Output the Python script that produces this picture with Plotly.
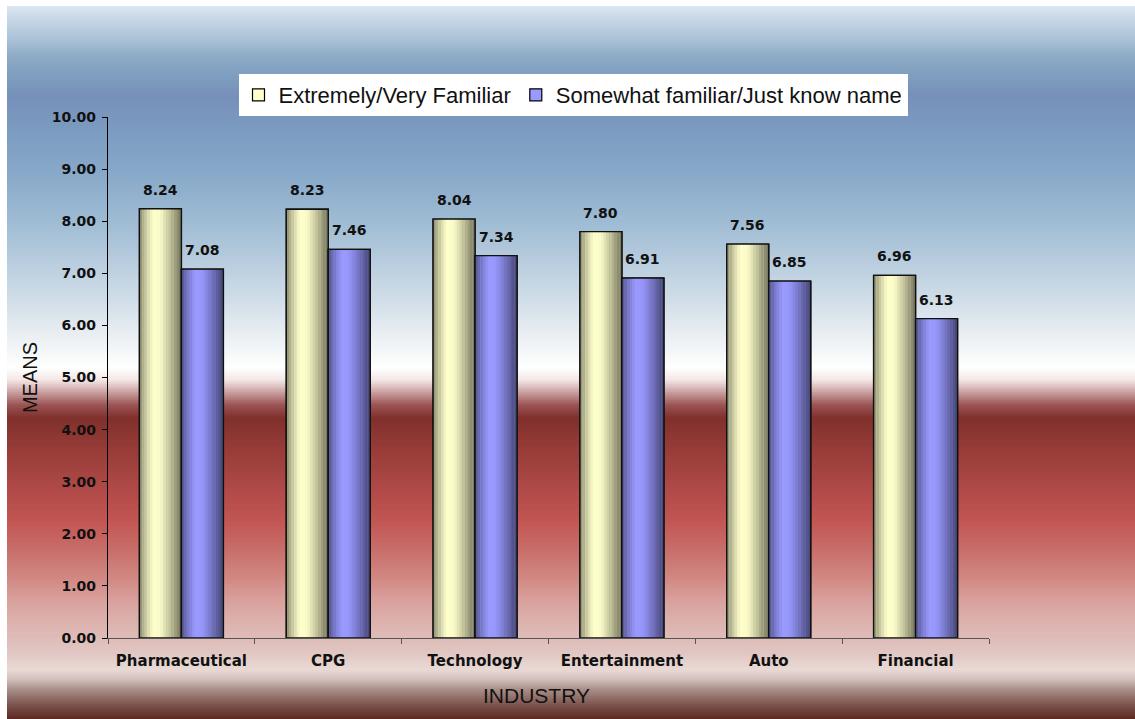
import plotly.graph_objects as go

# ---- data -------------------------------------------------------------
industries = ["Pharmaceutical", "CPG", "Technology", "Entertainment", "Auto", "Financial"]
very_familiar = [8.24, 8.23, 8.04, 7.80, 7.56, 6.96]
somewhat_familiar = [7.08, 7.46, 7.34, 6.91, 6.85, 6.13]
series_names = ["Extremely/Very Familiar", "Somewhat familiar/Just know name"]
y_ticks = [0, 1, 2, 3, 4, 5, 6, 7, 8, 9, 10]

# ---- geometry / style ----------------------------------------------------
W, H = 1135, 719
L, R, T, B = 108, 146, 117, 81
plot_w = W - L - R
plot_h = H - T - B
bar_w = 0.286
BOLD = "DejaVu Sans"
PLAIN = "Liberation Sans, Arial"
series = [
    (series_names[0], very_familiar, (255, 255, 204), -bar_w),
    (series_names[1], somewhat_familiar, (153, 153, 255), 0.0),
]

# background colour stops (pixel row -> rgb)
bg_stops = [
    (6, (219, 230, 241)), (20, (198, 214, 230)), (40, (169, 193, 215)),
    (55, (143, 171, 198)), (75, (127, 159, 192)), (95, (118, 144, 185)),
    (130, (123, 155, 193)), (180, (138, 171, 202)), (230, (164, 191, 214)),
    (300, (208, 221, 232)), (330, (230, 236, 241)), (368, (255, 255, 255)),
    (380, (244, 230, 230)), (395, (192, 144, 144)), (405, (154, 84, 84)),
    (418, (128, 48, 44)), (450, (152, 60, 56)), (490, (176, 74, 72)),
    (520, (194, 85, 82)), (550, (200, 110, 106)), (580, (210, 138, 132)),
    (600, (217, 160, 156)), (620, (220, 176, 172)), (650, (224, 196, 192)),
    (670, (233, 217, 213)), (680, (208, 188, 184)), (690, (168, 140, 134)),
    (705, (124, 84, 78)), (719, (92, 40, 34)),
]


def bg_color(py):
    for (y0, c0), (y1, c1) in zip(bg_stops[:-1], bg_stops[1:]):
        if y0 <= py <= y1:
            t = (py - y0) / (y1 - y0)
            return tuple(round(a + (b - a) * t) for a, b in zip(c0, c1))
    return bg_stops[-1][1]


def px_to_paper_x(px):
    return (px - L) / plot_w


def px_to_paper_y(py):
    return (H - B - py) / plot_h


shapes = []
step = 2
for py in range(6, H, step):
    r, g, b = bg_color(py + step / 2)
    shapes.append(dict(
        type="rect", xref="paper", yref="paper", layer="below",
        x0=px_to_paper_x(7), x1=px_to_paper_x(W + 2),
        y0=px_to_paper_y(py + step + 0.5), y1=px_to_paper_y(py),
        fillcolor=f"rgb({r},{g},{b})", line=dict(width=0),
    ))

# cylinder-style horizontal shading profile across a bar
shade_pts = [(0.0, 0.55), (0.15, 0.78), (0.32, 1.0), (0.5, 0.98), (0.7, 0.78), (0.88, 0.58), (1.0, 0.45)]


def shade(t):
    for (t0, f0), (t1, f1) in zip(shade_pts[:-1], shade_pts[1:]):
        if t0 <= t <= t1:
            return f0 + (f1 - f0) * (t - t0) / (t1 - t0)
    return shade_pts[-1][1]


fig = go.Figure()
n_strips = 16
x_idx = list(range(len(industries)))

for name, vals, base, off in series:
    # legend-carrying base bar
    fig.add_trace(go.Bar(
        x=industries, y=vals, name=name, offset=off, width=bar_w,
        marker=dict(color=f"rgb{base}", line=dict(color="black", width=1.2)),
        hoverinfo="skip",
    ))
    sw = bar_w / n_strips
    for k in range(n_strips):
        f = shade((k + 0.5) / n_strips)
        c = tuple(min(255, round(v * f)) for v in base)
        fig.add_trace(go.Bar(
            x=industries, y=vals, offset=off + k * sw, width=sw * 1.08,
            marker=dict(color=f"rgb{c}", line=dict(width=0)),
            showlegend=False, hoverinfo="skip",
        ))
    # outline on top
    fig.add_trace(go.Bar(
        x=industries, y=vals, offset=off, width=bar_w,
        marker=dict(color="rgba(0,0,0,0)", line=dict(color="#111", width=1.4)),
        showlegend=False, hoverinfo="skip",
    ))

annotations = []
for name, vals, base, off in series:
    for i, v in zip(x_idx, vals):
        annotations.append(dict(
            x=i + off + bar_w / 2, y=v, xref="x", yref="y",
            text=f"{v:.2f}", showarrow=False, yshift=19,
            font=dict(family=BOLD, size=14, color="#111", weight="bold"),
        ))

# x-axis title, placed slightly left of the plot centre
annotations.append(dict(
    text="INDUSTRY", xref="paper", yref="paper",
    x=px_to_paper_x(536), y=px_to_paper_y(695),
    xanchor="center", yanchor="middle", showarrow=False,
    font=dict(family=PLAIN, size=21, color="#111"),
))

fig.update_layout(
    width=W, height=H,
    margin=dict(l=L, r=R, t=T, b=B),
    paper_bgcolor="white",
    plot_bgcolor="rgba(0,0,0,0)",
    barmode="overlay",
    shapes=shapes,
    annotations=annotations,
    font=dict(family=PLAIN, color="#111"),
    legend=dict(
        orientation="h", x=px_to_paper_x(573), y=px_to_paper_y(74),
        xanchor="center", yanchor="top",
        bgcolor="white", borderwidth=0,
        font=dict(family=PLAIN, size=22, color="#111"),
        itemwidth=30, traceorder="normal",
    ),
    xaxis=dict(
        type="category", showgrid=False, showline=True, linecolor="#555", linewidth=1.2,
        ticks="outside", tickson="boundaries", ticklen=5, tickcolor="#555",
        ticklabelstandoff=9,
        tickfont=dict(family=BOLD, size=15, color="#111", weight="bold"),
        range=[-0.5, len(industries) - 0.5],
    ),
    yaxis=dict(
        range=[0, 10], tickvals=y_ticks, tickformat=".2f",
        showgrid=False, zeroline=False, showline=True, linecolor="black", linewidth=1.2,
        ticks="outside", ticklen=5, tickcolor="black",
        ticklabelstandoff=3,
        tickfont=dict(family=BOLD, size=14, color="#111", weight="bold"),
        title=dict(text="MEANS", font=dict(family=PLAIN, size=20, color="#111"), standoff=8),
    ),
)

fig.write_html("out.html")
